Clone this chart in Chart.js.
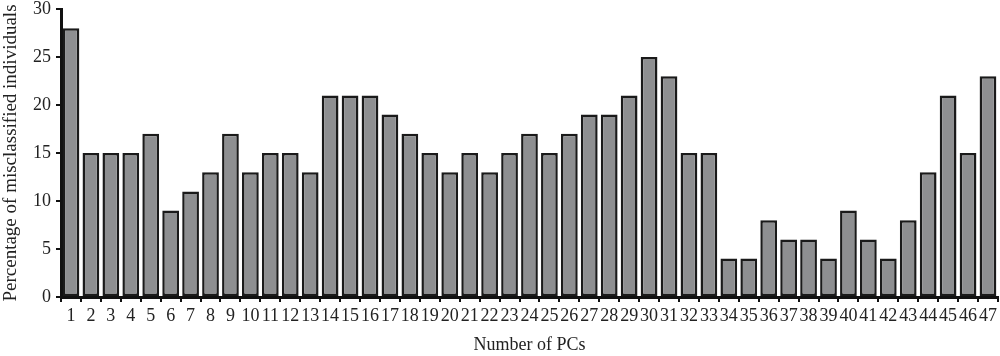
<!DOCTYPE html>
<html>
<head>
<meta charset="utf-8">
<script src="https://cdn.jsdelivr.net/npm/chart.js@4/dist/chart.umd.min.js"></script>
<style>
  html, body { margin: 0; padding: 0; background: #fff; }
  #wrap { width: 1000px; height: 356px; position: relative; }
</style>
</head>
<body>
<div id="wrap"><canvas id="pcChart"></canvas></div>
<script>
// Number of PCs (categories)
const pcLabels = [];
for (let i = 1; i <= 47; i++) pcLabels.push(String(i));

// Percentage of misclassified individuals
const misclassified = [
    28, 15, 15, 15, 17, 9, 11, 13, 17, 13,
    15, 15, 13, 21, 21, 21, 19, 17, 15, 13,
    15, 13, 15, 17, 15, 17, 19, 19, 21, 25,
    23, 15, 15, 4, 4, 8, 6, 6, 4, 9,
    6, 4, 8, 13, 21, 15, 23
];

const yTicks = [0, 5, 10, 15, 20, 25, 30];

const serif = "'Liberation Serif', 'Times New Roman', serif";

const ctx = document.getElementById('pcChart').getContext('2d');
new Chart(ctx, {
    type: 'bar',
    data: {
        labels: pcLabels,
        datasets: [{
            data: misclassified,
            backgroundColor: '#8e8f91',
            borderColor: '#1a1a1a',
            borderWidth: 2.5,
            borderSkipped: false,
            categoryPercentage: 1.0,
            barPercentage: 0.84
        }]
    },
    options: {
        responsive: true,
        maintainAspectRatio: false,
        animation: false,
        layout: { padding: { top: 9, right: 2, left: 0, bottom: 0 } },
        plugins: {
            legend: { display: false },
            tooltip: { enabled: false }
        },
        scales: {
            x: {
                offset: true,
                grid: {
                    offset: true,
                    drawOnChartArea: false,
                    drawTicks: true,
                    tickLength: 5,
                    color: '#111',
                    lineWidth: 2
                },
                border: { display: true, color: '#111', width: 3 },
                ticks: {
                    autoSkip: false,
                    maxRotation: 0,
                    minRotation: 0,
                    padding: 3,
                    color: '#222',
                    font: { family: serif, size: 18 }
                },
                title: {
                    display: true,
                    text: 'Number of PCs',
                    color: '#222',
                    padding: { top: 1, bottom: 0 },
                    font: { family: serif, size: 18 }
                },
                afterFit: function(scale) { scale.height = 59; }
            },
            y: {
                min: 0,
                max: 30,
                afterBuildTicks: function(scale) {
                    scale.ticks = yTicks.map(v => ({ value: v }));
                },
                grid: {
                    drawOnChartArea: false,
                    drawTicks: true,
                    tickLength: 5,
                    color: '#111',
                    lineWidth: 2
                },
                border: { display: true, color: '#111', width: 3 },
                ticks: {
                    padding: 5,
                    color: '#222',
                    font: { family: serif, size: 18 }
                },
                title: {
                    display: true,
                    text: 'Percentage of misclassified individuals',
                    color: '#222',
                    padding: { top: 0, bottom: 0 },
                    font: { family: serif, size: 19 }
                },
                afterFit: function(scale) {
                    scale.width = 61;
                    // let the layout padding decide the top edge
                    scale.paddingTop = 0;
                    scale.paddingBottom = 0;
                }
            }
        }
    }
});
</script>
</body>
</html>
